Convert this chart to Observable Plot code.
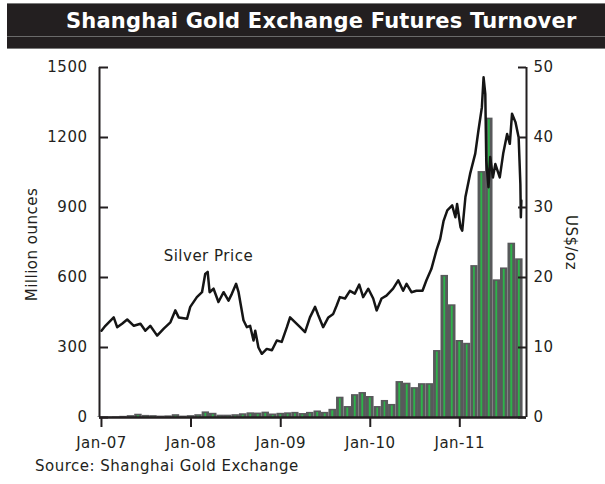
<!DOCTYPE html>
<html><head><meta charset="utf-8">
<script src="https://cdn.jsdelivr.net/npm/d3@7"></script>
<script src="https://cdn.jsdelivr.net/npm/@observablehq/plot@0.6"></script>
<style>
body{margin:0;background:#fff;}
#wrap{position:relative;width:605px;height:484px;overflow:hidden;font-family:"DejaVu Sans",sans-serif;color:#231f20;}
.tbar{position:absolute;left:7px;top:3px;width:598px;height:44px;background:#231f20;border-top:1px solid #7a7a7a;border-bottom:1px solid #7a7a7a;}
.tmid{position:absolute;left:7px;top:36px;width:598px;height:1px;background:#6a6a6a;}
.title{position:absolute;left:66px;top:11px;font-weight:bold;font-size:21px;line-height:21px;letter-spacing:0.2px;color:#fff;white-space:nowrap;}
#chart{position:absolute;left:0;top:50px;}
.source{position:absolute;left:35px;top:459px;font-size:15px;line-height:15px;letter-spacing:0.5px;white-space:nowrap;}
</style></head><body>
<div id="wrap">
  <div class="tbar"></div>
  <div class="tmid"></div>
  <div class="title">Shanghai Gold Exchange Futures Turnover</div>
  <div id="chart"></div>
  <div class="source">Source: Shanghai Gold Exchange</div>
</div>
<script>
// Monthly turnover (million ounces), Jan-07 .. Sep-11
const barStart = "2007-01-01";
const turnover = [
  2, 2, 3, 5, 8, 14, 9, 8, 6, 7, 12, 6,
  8, 12, 24, 18, 10, 10, 12, 16, 20, 19, 23, 15,
  18, 20, 22, 17, 22, 28, 22, 35, 87, 47, 98, 107,
  90, 47, 73, 56, 154, 147, 128, 145, 145, 287, 609, 483,
  330, 318, 651, 1054, 1283, 590, 641, 747, 680
];
// Silver price (US$/oz)
const silverDates = [
  "2007-01-01","2007-01-17","2007-02-20","2007-03-06","2007-03-26","2007-04-16","2007-05-13","2007-06-09","2007-06-29","2007-07-19",
  "2007-08-16","2007-09-12","2007-10-09","2007-10-29","2007-11-12","2007-12-16","2007-12-29","2008-01-25","2008-02-15","2008-02-28",
  "2008-03-09","2008-03-17","2008-04-02","2008-04-22","2008-05-13","2008-06-02","2008-06-16","2008-07-03","2008-07-13","2008-08-02",
  "2008-08-16","2008-08-29","2008-09-12","2008-09-19","2008-10-02","2008-10-16","2008-11-05","2008-11-26","2008-12-16","2009-01-05",
  "2009-01-26","2009-02-08","2009-03-21","2009-04-10","2009-04-30","2009-05-21","2009-06-03","2009-06-23","2009-07-14","2009-08-03",
  "2009-08-17","2009-08-30","2009-09-20","2009-10-10","2009-10-30","2009-11-17","2009-12-03","2009-12-24","2010-01-13","2010-01-27",
  "2010-02-16","2010-03-08","2010-04-04","2010-04-25","2010-05-15","2010-05-29","2010-06-18","2010-07-08","2010-08-02","2010-08-18",
  "2010-09-07","2010-09-28","2010-10-13","2010-10-27","2010-11-11","2010-12-01","2010-12-14","2010-12-21","2011-01-04","2011-01-11",
  "2011-01-24","2011-02-12","2011-03-05","2011-03-18","2011-04-01","2011-04-08","2011-04-15","2011-04-19","2011-04-28","2011-05-05",
  "2011-05-16","2011-05-26","2011-06-13","2011-06-27","2011-07-13","2011-07-24","2011-08-02","2011-08-16","2011-08-29","2011-09-05",
  "2011-09-07","2011-09-09"
];
const silverPrices = [
  12.4, 13.1, 14.3, 12.9, 13.4, 14.0, 13.1, 13.4, 12.4, 13.1,
  11.7, 12.7, 13.6, 15.3, 14.3, 14.1, 15.8, 17.2, 17.9, 20.5,
  20.8, 17.9, 18.4, 16.5, 17.9, 16.7, 17.7, 19.1, 17.9, 13.9,
  12.9, 13.1, 11.0, 12.4, 10.0, 9.1, 9.8, 9.6, 11.0, 10.8,
  12.9, 14.3, 12.9, 12.2, 14.3, 15.8, 14.6, 12.9, 14.3, 14.8,
  16.0, 17.2, 17.0, 18.1, 17.7, 19.0, 17.2, 18.4, 17.0, 15.3,
  17.0, 17.4, 18.4, 19.6, 18.1, 19.1, 17.9, 18.1, 18.1, 19.6,
  21.2, 23.9, 25.5, 28.1, 29.6, 30.3, 28.6, 30.5, 27.2, 26.7,
  31.5, 34.8, 37.7, 41.0, 44.3, 48.6, 46.2, 36.7, 32.9, 37.2,
  34.3, 36.2, 34.3, 37.7, 40.5, 39.1, 43.4, 42.2, 40.0, 33.4,
  28.6, 31.0
];
const leftTicks = [0, 300, 600, 900, 1200, 1500];
const rightTicks = [0, 10, 20, 30, 40, 50];
const xTicks = ["2007-01-01","2008-01-01","2009-01-01","2010-01-01","2011-01-01"];
const xDomain = ["2006-12-24","2011-09-30"];
const annotation = [{date: "2008-03-12", price: 23.0, label: "Silver Price"}];

const parse = d3.utcParse("%Y-%m-%d");
const K = 1500 / 50; // right-axis (US$/oz) to left-axis units
const bars = turnover.map((v, i) => {
  const d = d3.utcMonth.offset(parse(barStart), i);
  const p = d3.utcMonth.offset(d, -1), n = d3.utcMonth.offset(d, 1);
  return {x1: new Date((+p + +d) / 2), x2: new Date((+d + +n) / 2), v};
});
const silver = silverDates.map((d, i) => ({date: parse(d), y: silverPrices[i] * K}));
const dom = xDomain.map(parse);

const chart = Plot.plot({
  width: 605, height: 410,
  marginTop: 17, marginBottom: 43, marginLeft: 99, marginRight: 79,
  style: {fontFamily: "DejaVu Sans", fontSize: "15px", letterSpacing: "0.5px", color: "#231f20", background: "transparent", overflow: "visible"},
  x: {type: "utc", domain: dom},
  y: {domain: [0, 1500]},
  marks: [
    Plot.rect(bars, {x1: "x1", x2: "x2", y1: d => 0, y2: "v", fill: "#58595b"}),
    Plot.rect(bars, {x1: "x1", x2: "x2", y1: d => 0, y2: "v", fill: "#2db34a", insetLeft: 2.8, insetRight: 2.8, insetTop: 1.5}),
    Plot.line(silver, {x: "date", y: "y", stroke: "#151515", strokeWidth: 2.5, strokeLinejoin: "round"}),
    Plot.text(annotation, {x: d => parse(d.date), y: d => d.price * K, text: "label", fill: "#231f20"}),
    Plot.ruleY([0], {stroke: "#231f20", strokeWidth: 2.5}),
    Plot.ruleX([dom[0], dom[1]], {stroke: "#231f20", strokeWidth: 2}),
    Plot.tickY(leftTicks, {y: d => d, insetRight: 418, stroke: "#231f20", strokeWidth: 2}),
    Plot.tickY(rightTicks.map(v => v * K), {y: d => d, insetLeft: 419, stroke: "#231f20", strokeWidth: 2}),
    Plot.axisY(leftTicks, {anchor: "left", tickSize: 0, tickPadding: 12, tickFormat: d => `${d}`, label: null}),
    Plot.axisY(rightTicks.map(v => v * K), {anchor: "right", tickSize: 0, tickPadding: 7, tickFormat: d => `${d / K}`, label: null}),
    Plot.axisX(xTicks.map(parse), {tickSize: 10, tickPadding: 9.5, tickFormat: d3.utcFormat("%b-%y"), strokeWidth: 2, label: null}),
    Plot.text(["Million ounces"], {frameAnchor: "left", textAnchor: "middle", dx: -67, dy: 2, rotate: -90}),
    Plot.text(["US$/oz"], {frameAnchor: "right", textAnchor: "middle", dx: 44, rotate: 90})
  ]
});
document.getElementById("chart").append(chart);
</script>
</body></html>
